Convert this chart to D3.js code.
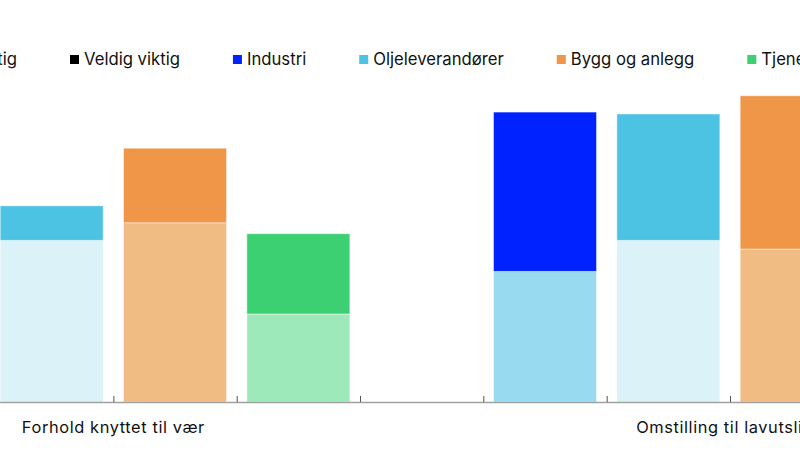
<!DOCTYPE html>
<html>
<head>
<meta charset="utf-8">
<script src="https://cdn.jsdelivr.net/npm/d3@7"></script>
<style>
  body { margin: 0; background: #fff; }
  svg { display: block; }
</style>
</head>
<body>
<svg width="800" height="450"></svg>
<script>
// data (share of contacts, %)
const groups = ["Forhold knyttet til vær", "Omstilling til lavutslipp"]
const sectors = ["Industri", "Oljeleverandører", "Bygg og anlegg", "Tjenesteyting"]
const noeViktig = [[38.0, 50.5, 56.0, 27.5], [40.8, 50.5, 47.8, 31.0]]
const veldigViktig = [[18.0, 10.8, 23.3, 25.1], [49.8, 39.5, 47.9, 36.0]]
const legendLabels = ["Noe viktig", "Veldig viktig"].concat(sectors)

const darkColors = ["#0022ff", "#4dc3e3", "#ef9649", "#3dd073"]
const lightColors = ["#98dbf0", "#dcf2f9", "#f1bb84", "#9ee9b9"]
const legendColors = ["#c8c8c8", "#000000"].concat(darkColors)

const svg = d3.select("svg")
const baseY = 402

// one slot per bar, one empty slot between the groups
const slots = []
groups.forEach((g, gi) => {
  if (gi > 0) slots.push("gap" + gi)
  sectors.forEach((s, si) => slots.push(gi + "-" + si))
})

const x = d3.scaleBand()
  .domain(slots)
  .range([-133.3, -133.3 + slots.length * 123.33])
  .padding(0)

const xEdge = d3.scaleLinear()
  .domain([0, slots.length])
  .range(x.range())

const y = d3.scaleLinear()
  .domain([0, 100])
  .range([baseY, baseY - 320])

const barW = x.bandwidth() * 0.835

// bars
groups.forEach((g, gi) => {
  sectors.forEach((s, si) => {
    const cx = x(gi + "-" + si) + x.bandwidth() / 2
    const lo = noeViktig[gi][si]
    const hi = lo + veldigViktig[gi][si]
    const bar = svg.append("g")
    bar.append("rect")
      .attr("x", cx - barW / 2)
      .attr("width", barW)
      .attr("y", y(lo))
      .attr("height", y(0) - y(lo))
      .attr("fill", lightColors[si])
    bar.append("rect")
      .attr("x", cx - barW / 2)
      .attr("width", barW)
      .attr("y", y(hi))
      .attr("height", y(lo) - y(hi))
      .attr("fill", darkColors[si])
    bar.selectAll("rect")
      .attr("stroke", "#fff")
      .attr("stroke-opacity", 0.45)
      .attr("stroke-width", 1)
  })
})

// axis with small inner ticks at slot edges
const xAxis = d3.axisBottom(xEdge)
  .tickValues(d3.range(0, slots.length + 1))
  .tickSize(-6)
  .tickSizeOuter(0)
  .tickFormat("")

const gx = svg.append("g")
  .attr("transform", `translate(0, ${baseY})`)
  .call(xAxis)
gx.select(".domain").attr("stroke", "#a0a0a0").attr("stroke-width", 1.6)
gx.selectAll(".tick line").attr("stroke", "#555").attr("stroke-width", 1)

// group labels
groups.forEach((g, gi) => {
  const first = slots.indexOf(gi + "-0")
  svg.append("text")
    .attr("x", xEdge(first + 2))
    .attr("y", 433)
    .attr("text-anchor", "middle")
    .attr("font-family", "Inter, 'Liberation Sans', sans-serif")
    .attr("font-size", "16.4px")
    .attr("letter-spacing", "0.6px")
    .attr("fill", "#111")
    .text(g)
})

// legend
const leg = svg.append("g")
const items = legendLabels.map((l, i) => {
  const it = leg.append("g")
  it.append("rect")
    .attr("width", 9).attr("height", 9)
    .attr("y", 55)
    .attr("fill", legendColors[i])
  const t = it.append("text")
    .attr("x", 14)
    .attr("y", 65)
    .attr("font-family", "Inter, 'Liberation Sans', sans-serif")
    .attr("font-size", "16.7px")
    .attr("fill", "#111")
    .text(l)
  return {g: it, w: 14 + t.node().getComputedTextLength()}
})
let pos = 0
const starts = items.map(d => { const p = pos; pos += d.w + 53; return p })
const shift = 70 - starts[1]
items.forEach((d, i) => d.g.attr("transform", `translate(${starts[i] + shift}, 0)`))
</script>
</body>
</html>
